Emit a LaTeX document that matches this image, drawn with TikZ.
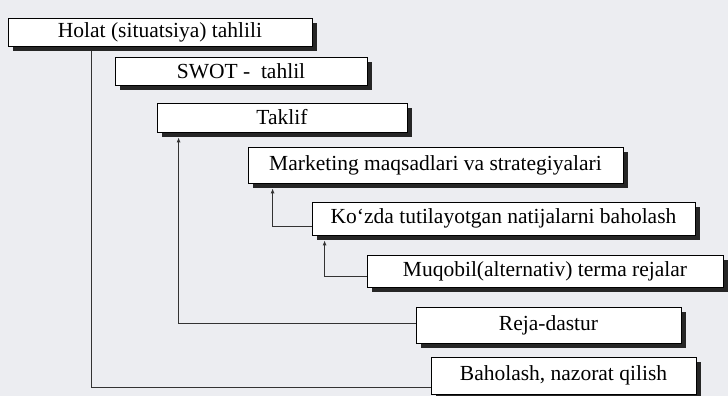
\documentclass[tikz,border=0pt]{standalone}
\usepackage{fontspec}
\setmainfont{Liberation Serif}
\usetikzlibrary{shadows,arrows.meta}
\definecolor{paper}{RGB}{236,237,241}

\begin{document}
\begin{tikzpicture}[x=1pt,y=-1pt,
    plan/.style={draw, line width=0.8pt, fill=white, inner sep=0pt,
      font=\fontsize{21.5}{24}\selectfont,
      drop shadow={shadow xshift=5pt, shadow yshift=-5pt, opacity=1, fill=black!85}},
    link/.style={line width=0.9pt, black!80},
    up/.style={link, -{Latex[length=5pt,width=4pt]}}]
  \useasboundingbox (0,0) rectangle (728,396);
  \fill[paper] (0,0) rectangle (728,396);
  % bloklar
  \node[plan, minimum width=304pt, minimum height=28pt] (holat) at (160,32) {Holat (situatsiya) tahlili};
  \node[plan, minimum width=252pt, minimum height=28pt] (swot) at (241,71) {SWOT -\ \ tahlil};
  \node[plan, minimum width=250pt, minimum height=29pt] (taklif) at (282,117.5) {Taklif};
  \node[plan, minimum width=375pt, minimum height=36pt] (marketing) at (435.5,165) {Marketing maqsadlari va strategiyalari};
  \node[plan, minimum width=383pt, minimum height=33pt] (kozda) at (503.5,218.5) {Ko‘zda tutilayotgan natijalarni baholash};
  \node[plan, minimum width=356pt, minimum height=32pt] (muqobil) at (545,271) {Muqobil(alternativ) terma rejalar};
  \node[plan, minimum width=265pt, minimum height=36pt] (reja) at (548.5,325) {Reja-dastur};
  \node[plan, minimum width=265pt, minimum height=37pt] (baholash) at (563.5,375.5) {Baholash, nazorat qilish};
  % bog'lanishlar
  \draw[link] ([xshift=84pt,yshift=-5pt]holat.south west) |- ([yshift=-11.5pt]baholash.west);
  \draw[up] ([yshift=1.5pt]reja.west) -| ([xshift=22pt,yshift=-5pt]taklif.south west);
  \draw[up] ([yshift=-7.5pt]kozda.west) -| ([xshift=25pt,yshift=-5pt]marketing.south west);
  \draw[up] ([yshift=-5pt]muqobil.west) -| ([xshift=13pt,yshift=-5pt]kozda.south west);
\end{tikzpicture}
\end{document}
